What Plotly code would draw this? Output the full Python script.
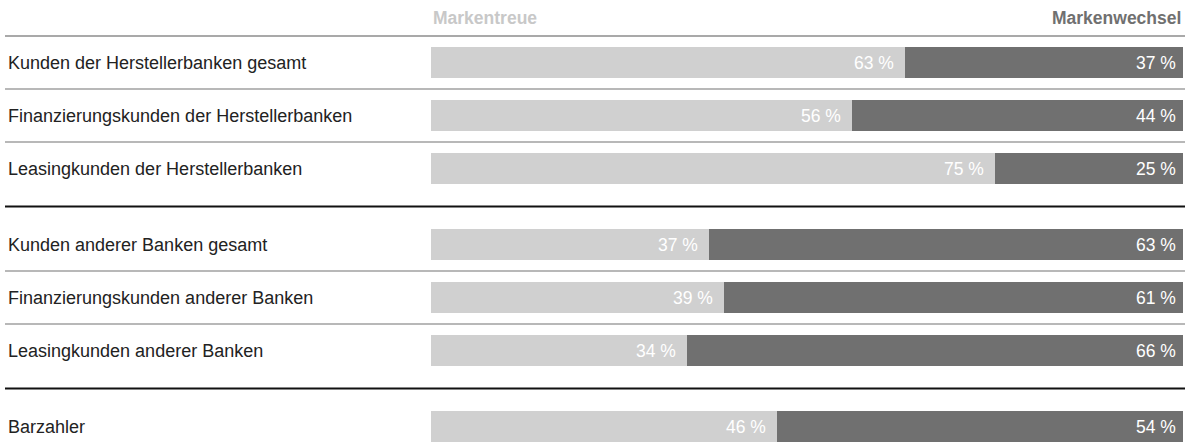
import plotly.graph_objects as go

categories = [
    "Kunden der Herstellerbanken gesamt",
    "Finanzierungskunden der Herstellerbanken",
    "Leasingkunden der Herstellerbanken",
    "Kunden anderer Banken gesamt",
    "Finanzierungskunden anderer Banken",
    "Leasingkunden anderer Banken",
    "Barzahler",
]
markentreue = [63, 56, 75, 37, 39, 34, 46]
markenwechsel = [37, 44, 25, 63, 61, 66, 54]
groups = [0, 0, 0, 1, 1, 1, 2]
series_names = ["Markentreue", "Markenwechsel"]

W, H = 1191, 448
FONT = "Liberation Sans"
FS_LABEL = 18
FS = 17.5
LIGHT = "#d0d0d0"
DARK = "#707070"

# layout positions (pixel-like y coordinates)
ROW0, STEP, GAP = 62.5, 53, 23
ypos = [ROW0 + i * STEP + g * GAP for i, g in enumerate(groups)]

fig = go.Figure()
fig.add_trace(go.Bar(
    y=ypos, x=markentreue, orientation="h", width=31,
    marker=dict(color=LIGHT, line=dict(width=0)), name=series_names[0],
    hoverinfo="skip"))
fig.add_trace(go.Bar(
    y=ypos, x=markenwechsel, orientation="h", width=31,
    marker=dict(color=DARK, line=dict(width=0)), name=series_names[1],
    hoverinfo="skip"))

ann = []
for y, lab, t, w in zip(ypos, categories, markentreue, markenwechsel):
    ann.append(dict(x=6 / W, xref="paper", y=y, yref="y", text=lab,
                    xanchor="left", yanchor="middle", showarrow=False,
                    font=dict(family=FONT, size=FS_LABEL, color="#222222")))
    ann.append(dict(x=t, xref="x", y=y, yref="y", text=f"{t} %",
                    xanchor="right", yanchor="middle", xshift=-9, showarrow=False,
                    font=dict(family=FONT, size=FS, color="#ffffff")))
    ann.append(dict(x=t + w, xref="x", y=y, yref="y", text=f"{w} %",
                    xanchor="right", yanchor="middle", xshift=-5, showarrow=False,
                    font=dict(family=FONT, size=FS, color="#ffffff")))

ann.append(dict(x=0, xref="x", y=18, yref="y", text=f"<b>{series_names[0]}</b>",
                xanchor="left", yanchor="middle", showarrow=False,
                font=dict(family=FONT, size=FS, color="#c8c8c8")))
ann.append(dict(x=100, xref="x", y=18, yref="y", text=f"<b>{series_names[1]}</b>",
                xanchor="right", yanchor="middle", showarrow=False,
                font=dict(family=FONT, size=FS, color=DARK)))

shapes = []
x0, x1 = 5 / W, 1185 / W
shapes.append(dict(type="line", xref="paper", yref="y", x0=x0, x1=x1,
                   y0=ypos[0] - 26.5, y1=ypos[0] - 26.5,
                   line=dict(color="#8c8c8c", width=1.5)))
for i in range(len(ypos) - 1):
    ym = (ypos[i] + ypos[i + 1]) / 2
    if groups[i] == groups[i + 1]:
        line = dict(color="#a0a0a0", width=1.5)
    else:
        line = dict(color="#111111", width=2)
    shapes.append(dict(type="line", xref="paper", yref="y", x0=x0, x1=x1,
                       y0=ym, y1=ym, line=line))

fig.update_layout(
    width=W, height=H, margin=dict(l=0, r=0, t=0, b=0),
    paper_bgcolor="white", plot_bgcolor="white",
    barmode="stack", bargap=0, showlegend=False,
    xaxis=dict(range=[0, 100], domain=[431 / W, 1183 / W], visible=False,
               fixedrange=True),
    yaxis=dict(range=[H, 0], domain=[0, 1], visible=False, fixedrange=True),
    annotations=ann, shapes=shapes,
)

fig.write_html("out.html")
